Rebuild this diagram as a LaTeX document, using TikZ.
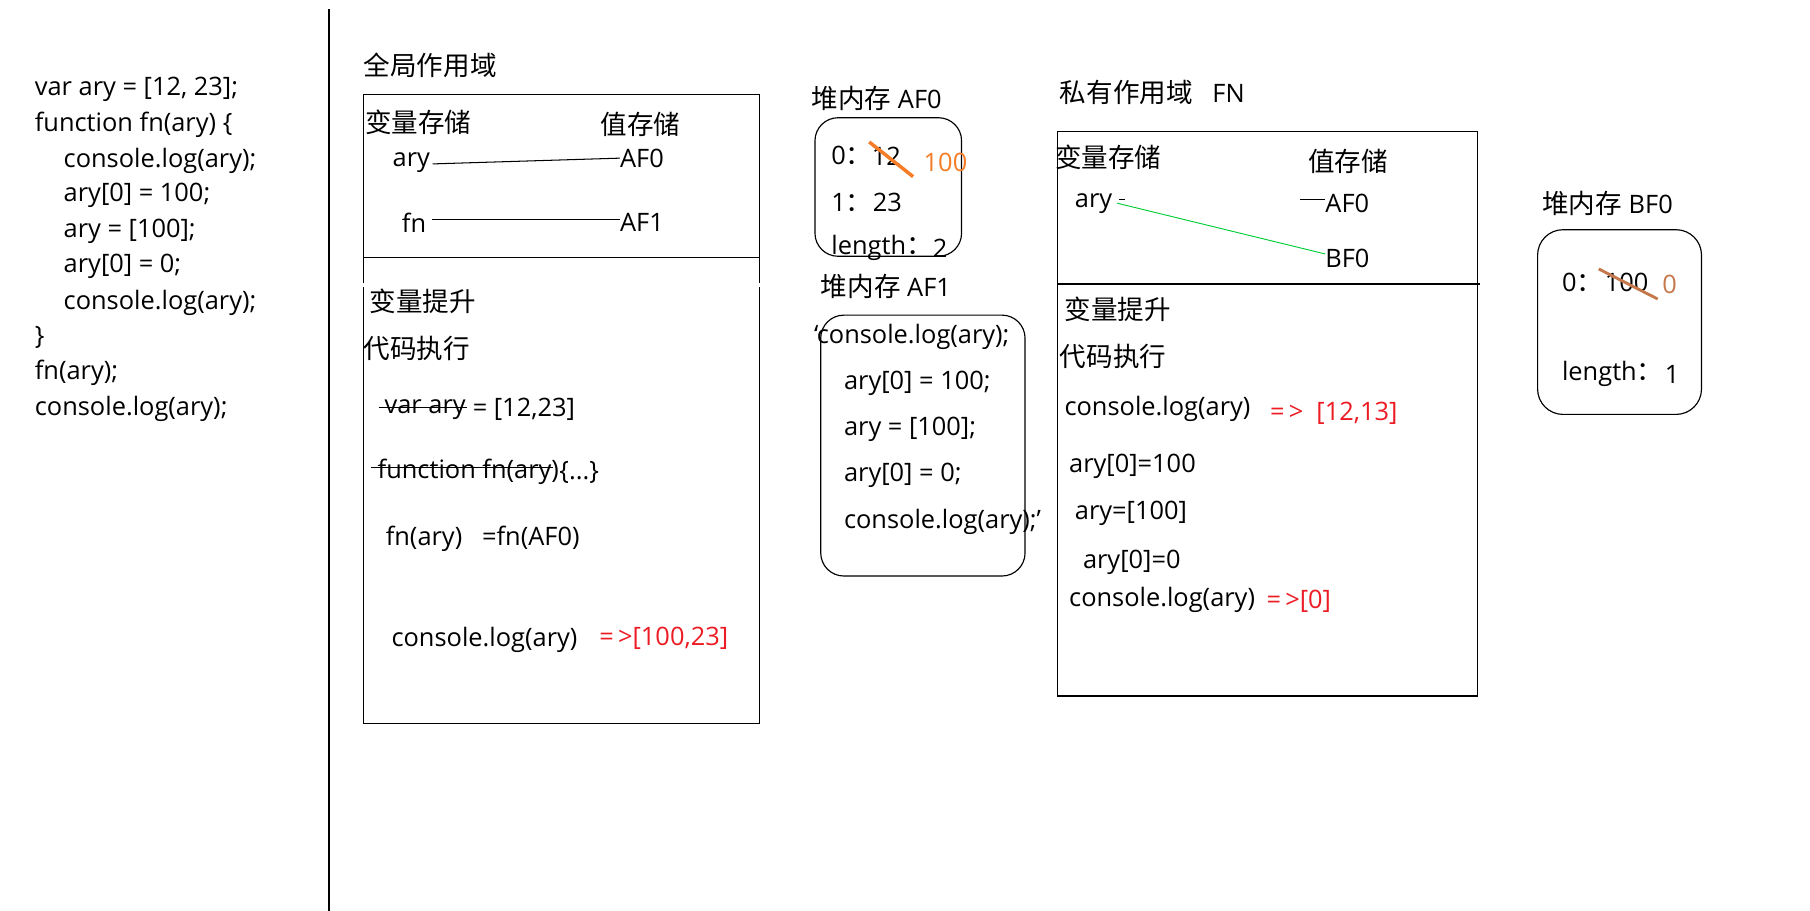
\documentclass[tikz,border=0pt]{standalone}
\usepackage{fontspec}
\setmainfont{Open Sans}
\newfontfamily\zhfont{Noto Sans CJK SC}
\newcommand\zh[1]{{\fontsize{23}{28}\selectfont\zhfont #1}}
\definecolor{redt}{RGB}{237,28,36}
\definecolor{orng}{RGB}{245,125,40}
\definecolor{brwn}{RGB}{196,120,75}
\definecolor{grn}{RGB}{0,204,51}
\begin{document}
\begin{tikzpicture}[x=1pt,y=-1pt,
  zhtxt/.style={anchor=west,inner sep=0pt,font=\fontsize{22}{26}\selectfont},
  txt/.style={zhtxt,yshift=-3pt},
  red/.style={txt,text=redt},
  box/.style={draw=black,line width=1pt},
  heap/.style={draw=black,line width=1pt,rounded corners=20pt},
  wire/.style={draw=black,line width=0.9pt},
  strike/.style={draw=black,line width=1pt}]
\useasboundingbox (0,0) rectangle (1568,789);
\fill[white] (0,0) rectangle (1568,789);
% separator
\draw[line width=1pt] (285,8) -- (285,789);
% code
\node[txt] (c1) at (30,74) {var ary = [12, 23];};
\node[txt] (c2) at (30,105) {function fn(ary) \{};
\node[txt] (c3) at (55,136) {console.log(ary);};
\node[txt] (c4) at (55,166) {ary[0] = 100;};
\node[txt] (c5) at (55,197) {ary = [100];};
\node[txt] (c6) at (55,228) {ary[0] = 0;};
\node[txt] (c7) at (55,259) {console.log(ary);};
\node[txt] (c8) at (30,289) {\}};
\node[txt] (c9) at (30,320) {fn(ary);};
\node[txt] (c10) at (30,351) {console.log(ary);};
% global scope
\node[zhtxt] (gt) at (315,57) {\zh{全局作用域}};
\draw[box] (315,245) -- (315,82) -- (658,82) -- (658,245);
\draw[box] (315,249) -- (315,627) -- (658,627) -- (658,249);
\draw[box] (315,223) -- (658,223);
\node[zhtxt] (gvs) at (316,106) {\zh{变量存储}};
\node[zhtxt] (gzs) at (520,108) {\zh{值存储}};
\node[txt] (gary) at (340,138) {ary};
\node[txt] (gaf0) at (537,134) {AF0};
\node[txt] (gfn) at (348,190) {fn};
\node[txt] (gaf1) at (537,190) {AF1};
\draw[wire] ([xshift=2pt,yshift=-1pt]gary.east) -- (gaf0.west);
\draw[wire] ([xshift=5pt,yshift=3pt]gfn.east) -- ([yshift=3pt]gaf1.west);
\node[zhtxt] (gts) at (320,261) {\zh{变量提升}};
\node[zhtxt] (gdm) at (315,302) {\zh{代码执行}};
\node[txt] (gv1) at (333,352) {var ary};
\node[zhtxt] (gv2) at (gv1.east) {\ = [12,23]};
\draw[strike] ([xshift=-5pt,yshift=2pt]gv1.west) -- ([xshift=1pt,yshift=2pt]gv1.east);
\node[txt] (gf1) at (327,406) {function fn(ary)};
\node[zhtxt] (gf2) at (gf1.east) {\{...\}};
\draw[strike] ([xshift=-6pt,yshift=4pt]gf1.west) -- ([xshift=-5pt,yshift=4pt]gf1.east);
\node[txt] (gc1) at (334,464) {fn(ary)\ \ \ =fn(AF0)};
\node[txt] (gc2) at (339,551) {console.log(ary)};
\node[red] (gr) at (519,550) {=\,>[100,23]};
% heap AF0
\node[zhtxt] (ha) at (703,85) {\zh{堆内存} AF0};
\draw[heap] (706,102) rectangle (833,222);
\node[txt] (ha0) at (720,132) {0\zh{：}};
\node[txt] (ha12) at (755,132) {12};
\node[txt,text=orng] (ha100) at (800,138) {100};
\draw[orng,line width=3pt] (753,123) -- (791,153);
\node[txt] (ha1) at (720,172) {1\zh{：}};
\node[txt] (ha23) at (756,172) {23};
\node[txt] (hal) at (720,212) {length\zh{：}};
\node[txt] (hal2) at (808,212) {2};
% heap AF1
\node[zhtxt] (hb) at (711,248) {\zh{堆内存} AF1};
\draw[heap] (711,273) rectangle (888,499);
\node[txt] (hb1) at (705,289) {‘console.log(ary);};
\node[txt] (hb2) at (731,329) {ary[0] = 100;};
\node[txt] (hb3) at (731,369) {ary = [100];};
\node[txt] (hb4) at (731,409) {ary[0] = 0;};
\node[txt] (hb5) at (731,449) {console.log(ary);’};
% private scope
\node[zhtxt] (pt) at (918,80) {\zh{私有作用域}\ \ \ FN};
\draw[box] (916,114) rectangle (1280,603);
\draw[box] (916,246) -- (1282,246);
\node[zhtxt] (pvs) at (914,136) {\zh{变量存储}};
\node[zhtxt] (pzs) at (1133,140) {\zh{值存储}};
\node[txt] (pary) at (931,173) {ary};
\node[txt] (paf0) at (1148,173) {AF0};
\node[txt] (pbf0) at (1148,221) {BF0};
\coordinate (pstub) at (1126,173);
\draw[line width=0.8pt] ([xshift=6pt,yshift=3pt]pary.east) -- ++(5,0);
\draw[wire] (pstub) -- ([yshift=3pt]paf0.west);
\draw[grn,line width=0.8pt] ([xshift=4pt,yshift=0pt]pary.east) -- ([yshift=4pt]pbf0.west);
\node[zhtxt] (pts) at (922,268) {\zh{变量提升}};
\node[zhtxt] (pdm) at (918,309) {\zh{代码执行}};
\node[txt] (pc1) at (922,351) {console.log(ary)};
\node[red] (pr1) at (1100,355) {=\,>\ \ [12,13]};
\node[txt] (pc2) at (926,401) {ary[0]=100};
\node[txt] (pc3) at (931,442) {ary=[100]};
\node[txt] (pc4) at (938,484) {ary[0]=0};
\node[txt] (pc5) at (926,517) {console.log(ary)};
\node[red] (pr2) at (1097,518) {=\,>[0]};
% heap BF0
\node[zhtxt] (hc) at (1336,176) {\zh{堆内存} BF0};
\draw[heap,rounded corners=22pt] (1332,199) rectangle (1474,359);
\node[txt] (hc0) at (1353,242) {0\zh{：}};
\node[txt] (hc100) at (1390,242) {100};
\node[txt,text=brwn] (hcn) at (1440,243) {0};
\draw[brwn,line width=2.5pt] (1385,233) -- (1436,259);
\node[txt] (hcl) at (1353,321) {length\zh{：}};
\node[txt] (hcl1) at (1442,321) {1};
\end{tikzpicture}
\end{document}
